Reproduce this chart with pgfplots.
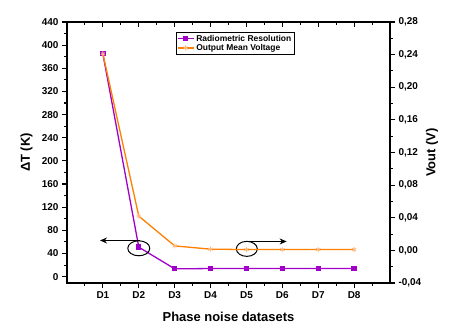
\documentclass[border=0pt]{standalone}
\usepackage{fontspec}
\setmainfont{Liberation Sans}
\usepackage{pgfplots}
\pgfplotsset{compat=1.18}
\usetikzlibrary{arrows.meta}
\definecolor{rpurple}{RGB}{160,0,200}
\definecolor{rorange}{RGB}{255,128,0}
\definecolor{rlorange}{RGB}{255,185,130}
\begin{document}
\begin{tikzpicture}[x=1bp,y=1bp]
\path[use as bounding box] (0,0) rectangle (462,331);
\pgfplotsset{common/.style={scale only axis, width=323bp, height=261bp, at={(67bp,48bp)}, anchor=south west,
  xmin=0, xmax=9, tick align=outside, major tick length=5bp, minor tick length=3bp,
  every tick/.style={black, line width=1.1bp}, axis line style={line width=1.5bp},
  tick label style={font=\bfseries\fontsize{10}{11}\selectfont},
  label style={font=\bfseries\fontsize{13}{15}\selectfont},
  /pgf/number format/assume math mode=true,
  legend image code/.code={\draw[mark repeat=2,mark phase=2,##1] plot coordinates {(0bp,0bp)(8bp,0bp)(16bp,0bp)};}}}
\begin{axis}[common, ymin=-11, ymax=440,
  ytick={0,40,80,120,160,200,240,280,320,360,400,440},
  minor ytick={20,60,100,140,180,220,260,300,340,380,420},
  xtick={1,2,3,4,5,6,7,8}, xticklabels={D1,D2,D3,D4,D5,D6,D7,D8},
  minor xtick={0.5,1.5,2.5,3.5,4.5,5.5,6.5,7.5,8.5},
  xtick pos=bottom, ytick pos=left,
  xlabel={Phase noise datasets}, ylabel={ΔT (K)},
  ylabel style={at={(axis description cs:-0.125,0.5)}, anchor=center},
  xlabel style={at={(axis description cs:0.5,-0.13)}, anchor=center},
  legend style={at={(axis description cs:0.337,0.962)}, anchor=north west, draw=black, line width=0.6bp,
    font=\bfseries\fontsize{8.5}{9.5}\selectfont, inner sep=0.8bp, row sep=-2.5bp},
  legend cell align=left]
\addplot[rpurple, line width=1.3bp, mark=square*, mark size=2bp] coordinates {(1,385)(2,51)(3,13.5)(4,14)(5,14)(6,14)(7,14)(8,14)};
\addlegendentry{Radiometric Resolution}
\addlegendimage{rorange, line width=1.3bp, mark=asterisk, mark size=2.5bp, mark options={rlorange, line width=0.8bp}}
\addlegendentry{Output Mean Voltage}
\draw[line width=1bp] (axis cs:2.0,49) ellipse [x radius=11bp, y radius=7.5bp];
\draw[line width=1bp, -{Stealth[length=7bp,width=6bp]}] (axis cs:2.03,62.5) -- (axis cs:0.92,62.5);
\draw[line width=1bp] (axis cs:5.01,48) ellipse [x radius=10.5bp, y radius=7.5bp];
\draw[line width=1bp, -{Stealth[length=7bp,width=6bp]}] (axis cs:4.96,60.8) -- (axis cs:6.12,60.8);
\end{axis}
\begin{axis}[common, ymin=-0.04, ymax=0.28, axis y line*=right, axis x line=none,
  ytick={-0.04,0,0.04,0.08,0.12,0.16,0.20,0.24,0.28},
  minor ytick={-0.02,0.02,0.06,0.10,0.14,0.18,0.22,0.26},
  yticklabel style={/pgf/number format/.cd, fixed, fixed zerofill, precision=2, use comma},
  ylabel={Vout (V)},
  ylabel style={at={(axis description cs:1.13,0.5)}, anchor=center}]
\addplot[rorange, line width=1.3bp, mark=asterisk, mark size=2.5bp, mark options={rlorange, line width=0.8bp}] coordinates {(1,0.241)(2,0.042)(3,0.0055)(4,0.0015)(5,0.001)(6,0.001)(7,0.001)(8,0.001)};
\end{axis}
\begin{axis}[common, ymin=0, ymax=1, axis x line*=top, axis y line=none, tick align=inside,
  xtick={1,2,3,4,5,6,7,8}, xticklabels={},
  minor xtick={0.5,1.5,2.5,3.5,4.5,5.5,6.5,7.5,8.5}]
\end{axis}
\end{tikzpicture}
\end{document}
